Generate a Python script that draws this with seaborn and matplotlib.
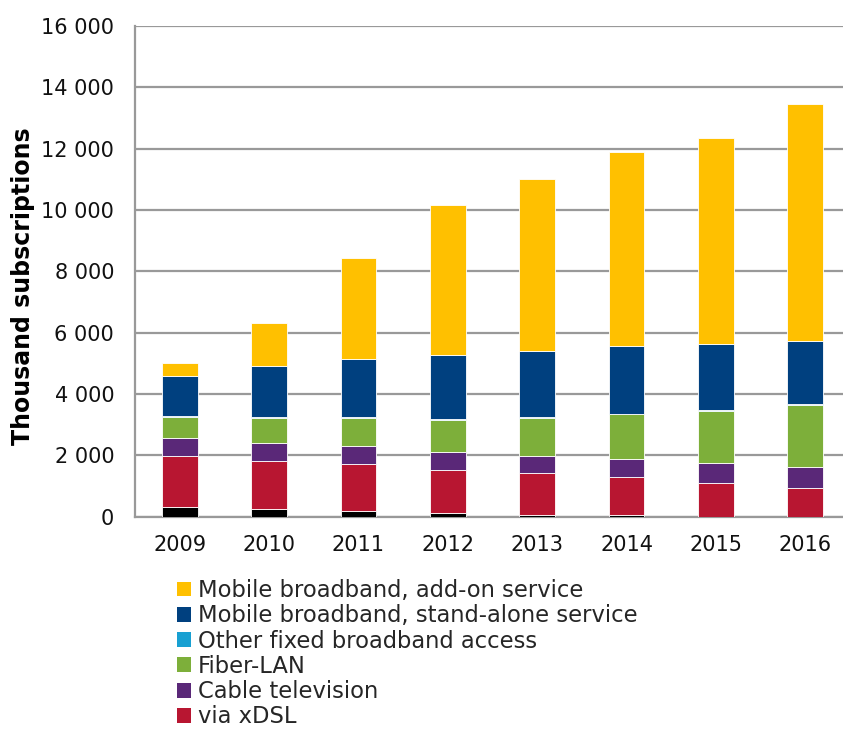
import matplotlib
matplotlib.use("Agg")
import matplotlib.pyplot as plt
import matplotlib.ticker as mticker
from matplotlib.patches import Patch
import numpy as np
import pandas as pd
import seaborn as sns

years = ["2009", "2010", "2011", "2012", "2013", "2014", "2015", "2016"]

# Thousand subscriptions per access type (stacked bottom to top)
dial_up = [330, 235, 200, 105, 50, 55, 0, 0]
xdsl = [1660, 1583, 1531, 1434, 1367, 1242, 1101, 951]
cable_tv = [574, 587, 587, 574, 554, 586, 652, 672]
fiber_lan = [697, 814, 912, 1055, 1248, 1457, 1707, 2033]
other_fixed = [20, 20, 20, 20, 20, 20, 20, 35]
mobile_standalone = [1293, 1674, 1903, 2075, 2164, 2206, 2163, 2039]
mobile_addon = [422, 1416, 3292, 4901, 5608, 6315, 6695, 7718]

series = [
    ("Dial-up", dial_up, "#000000"),
    ("via xDSL", xdsl, "#B81631"),
    ("Cable television", cable_tv, "#5A2878"),
    ("Fiber-LAN", fiber_lan, "#7DAF3A"),
    ("Other fixed broadband access", other_fixed, "#18A0D2"),
    ("Mobile broadband, stand-alone service", mobile_standalone, "#00407F"),
    ("Mobile broadband, add-on service", mobile_addon, "#FFC000"),
]
legend_order = [
    "Mobile broadband, add-on service",
    "Mobile broadband, stand-alone service",
    "Other fixed broadband access",
    "Fiber-LAN",
    "Cable television",
    "via xDSL",
]

sns.set_theme(style="white")
plt.rcParams["font.family"] = ["DejaVu Sans"]

fig = plt.figure(figsize=(8.43, 7.31), dpi=100)
ax = fig.add_axes([135 / 843, (731 - 516.7) / 731, 715 / 843, 490.7 / 731])

bottom = np.zeros(len(years))
colors = {}
for name, vals, col in series:
    df = pd.DataFrame({"year": years, "value": vals})
    sns.barplot(data=df, x="year", y="value", ax=ax, color=col, width=0.4,
                bottom=bottom, edgecolor="#ffffff", linewidth=0.6,
                saturation=1, zorder=3)
    bottom = bottom + np.array(vals, dtype=float)
    colors[name] = col

ax.set_ylim(0, 16000)
ax.set_xlim(-0.5, len(years) - 0.5)
ax.yaxis.set_major_locator(mticker.MultipleLocator(2000))
ax.yaxis.set_major_formatter(
    mticker.FuncFormatter(lambda v, p: f"{int(v):,}".replace(",", " ")))
ax.grid(axis="y", color="#999999", linewidth=1.6, zorder=0)
ax.set_axisbelow(True)

for s in ["top", "right"]:
    ax.spines[s].set_visible(False)
for s in ["left", "bottom"]:
    ax.spines[s].set_color("#999999")
    ax.spines[s].set_linewidth(1.6)

# tick marks between categories on the x axis
ax.set_xticks(np.arange(len(years)))
ax.set_xticklabels(years)
ax.set_xticks(np.arange(-0.5, len(years), 1), minor=True)
ax.tick_params(axis="x", which="major", length=0, pad=13, labelsize=15,
               labelcolor="#111111")
ax.tick_params(axis="x", which="minor", length=5, width=1.6, color="#999999",
               direction="out")
ax.tick_params(axis="y", length=5, width=1.6, color="#999999", direction="out",
               labelsize=15, labelcolor="#111111", pad=10)
ax.set_xlabel("")
ax.set_ylabel("Thousand subscriptions", fontsize=17, fontweight="bold",
              color="#000000", va="center")
ax.yaxis.set_label_coords(-0.157, 0.47)

handles = [Patch(facecolor=colors[n], edgecolor="none") for n in legend_order]
fig.legend(handles, legend_order, loc="upper left",
           bbox_to_anchor=(177 / 843, 1 - 579 / 731), frameon=False,
           fontsize=16.3, handlelength=0.63, handleheight=0.63,
           handletextpad=0.3, labelspacing=0.1, borderaxespad=0,
           borderpad=0)

fig.savefig("out.png", dpi=100)
